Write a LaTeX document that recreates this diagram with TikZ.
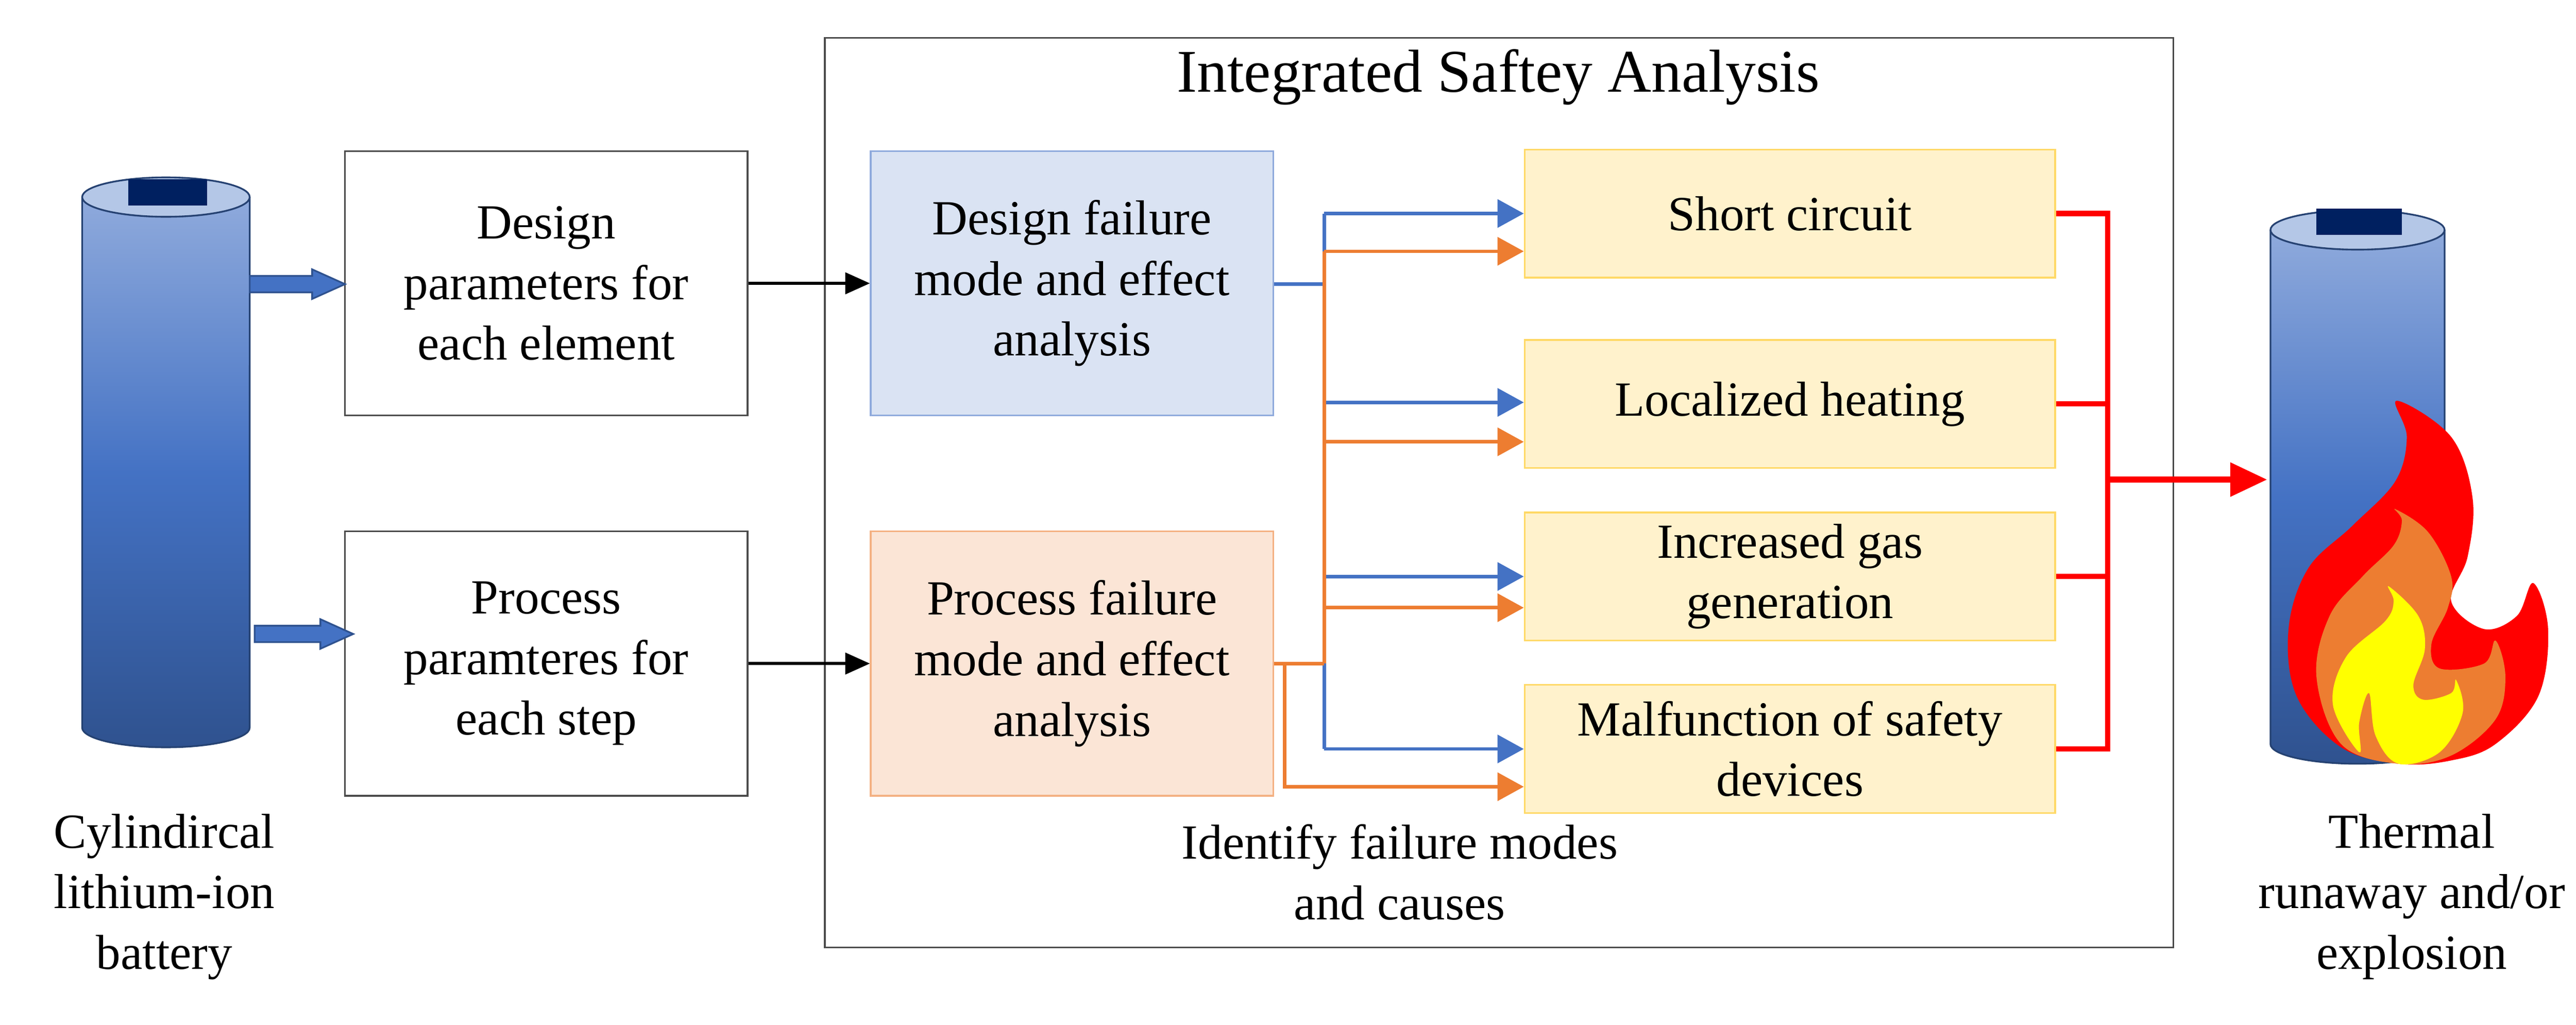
\documentclass[tikz,border=0pt]{standalone}
\usepackage{fontspec}
\setmainfont{Liberation Serif}
\usetikzlibrary{arrows.meta}
\definecolor{cblue}{HTML}{4472C4}
\definecolor{corange}{HTML}{ED7D31}
\definecolor{cred}{HTML}{FF0000}
\definecolor{dfill}{HTML}{DAE3F3}
\definecolor{dline}{HTML}{8FAADC}
\definecolor{pfill}{HTML}{FBE5D6}
\definecolor{pline}{HTML}{F4B183}
\definecolor{yfill}{HTML}{FFF2CC}
\definecolor{yline}{HTML}{FFD966}
\definecolor{battop}{HTML}{8FAADC}
\definecolor{batmid}{HTML}{4472C4}
\definecolor{batbot}{HTML}{2F528F}
\definecolor{batlid}{HTML}{B4C7E7}
\definecolor{batcap}{HTML}{002060}
\definecolor{fyellow}{HTML}{FFFF00}
\tikzset{
  txt/.style={font=\fontsize{17}{21}\selectfont, align=center},
  box/.style={txt, draw=black!70, line width=0.6pt, fill=white, minimum width=4.9cm, minimum height=3.22cm, inner sep=2pt},
  dbox/.style={box, fill=dfill, draw=dline},
  pbox/.style={box, fill=pfill, draw=pline},
  ybox/.style={txt, fill=yfill, draw=yline, line width=0.6pt, minimum width=6.46cm, minimum height=1.56cm, inner sep=2pt},
  barr/.style={cblue, line width=1.2pt, -{Triangle[length=0.32cm,width=0.34cm]}},
  oarr/.style={corange, line width=1.2pt, -{Triangle[length=0.32cm,width=0.34cm]}},
  bln/.style={cblue, line width=1.2pt},
  oln/.style={corange, line width=1.2pt},
  rln/.style={cred, line width=1.8pt},
  karr/.style={black, line width=1pt, -{Triangle[length=0.3cm,width=0.26cm]}},
  blk/.style={fill=cblue, draw=batbot, line width=0.6pt},
}
\begin{document}
\begin{tikzpicture}[x=0.02cm,y=-0.02cm]
\useasboundingbox (0,0) rectangle (1568,624);
% left battery
\shade[top color=battop, bottom color=batbot, middle color=batmid] (50,120) -- (50,443) arc[start angle=180,end angle=360,x radius=1.02cm,y radius=0.24cm] -- (152,120) -- cycle;
\draw[batbot!80!black, line width=0.6pt] (50,120) -- (50,443) arc[start angle=180,end angle=360,x radius=1.02cm,y radius=0.24cm] -- (152,120);
\draw[fill=batlid, draw=batbot!80!black, line width=0.6pt] (101,120) ellipse[x radius=1.02cm, y radius=0.24cm];
\fill[batcap] (78,109) rectangle (126,125);
% right battery
\shade[top color=battop, bottom color=batbot, middle color=batmid] (1382,140) -- (1382,453) arc[start angle=180,end angle=360,x radius=1.06cm,y radius=0.24cm] -- (1488,140) -- cycle;
\draw[batbot!80!black, line width=0.6pt] (1382,140) -- (1382,453) arc[start angle=180,end angle=360,x radius=1.06cm,y radius=0.24cm] -- (1488,140);
\draw[fill=batlid, draw=batbot!80!black, line width=0.6pt] (1435,140) ellipse[x radius=1.06cm, y radius=0.24cm];
\fill[batcap] (1410,127) rectangle (1462,143);
% flames
\fill[cred] plot[smooth cycle, tension=0.6] coordinates {(1459,244) (1492,266) (1505,303) (1502,339) (1492,366) (1512,383) (1532,375) (1542,355) (1551,383) (1545,424) (1519,453) (1492,463) (1460,465) (1425,455) (1398,424) (1393,383) (1405,346) (1432,320) (1458,293) (1465,266)};
\fill[corange] plot[smooth cycle, tension=0.6] coordinates {(1458,310) (1478,324) (1492,351) (1490,370) (1480,392) (1485,407) (1512,404) (1519,390) (1525,412) (1519,438) (1492,460) (1460,465) (1425,453) (1410,412) (1418,375) (1438,351) (1457,332) (1462,317)};
\fill[fyellow] plot[smooth cycle, tension=0.6] coordinates {(1454,357) (1472,375) (1476,395) (1469,417) (1475,426) (1492,422) (1495,414) (1499,434) (1485,458) (1460,465) (1446,448) (1442,422) (1436,440) (1436,458) (1420,429) (1428,400) (1452,378) (1457,366)};
% frame
\node[draw=black!70, line width=0.6pt, minimum width=16.42cm, minimum height=11.08cm, inner sep=0] (frame) at (912.5,300) {};
\node[font=\fontsize{21}{25}\selectfont] (title) at (912,47) {Integrated Saftey Analysis};
% boxes
\node[box] (dp) at (332.5,172.5) {Design\\parameters for\\each element};
\node[box] (pp) at (332.5,404) {Process\\paramteres for\\each step};
\node[dbox] (df) at (652.5,172.5) {Design failure\\mode and effect\\analysis};
\node[pbox] (pf) at (652.5,404) {Process failure\\mode and effect\\analysis};
\node[ybox] (sc) at (1089.5,130) {Short circuit};
\node[ybox] (lh) at (1089.5,246) {Localized heating};
\node[ybox] (ig) at (1089.5,351) {Increased gas\\generation};
\node[ybox] (mf) at (1089.5,456) {Malfunction of safety\\devices};
% labels
\node[txt] (lb1) at (100,546) {Cylindircal\\lithium-ion\\battery};
\node[txt] (lb2) at (1468,546) {Thermal\\runaway and/or\\explosion};
\node[txt] (lb3) at (852,531) {Identify failure modes\\and causes};
% block arrows
\draw[blk] (152,168) -- (190,168) -- (190,164) -- (210,173) -- (190,182) -- (190,178) -- (152,178) -- cycle;
\draw[blk] (155,381) -- (195,381) -- (195,377) -- (215,386) -- (195,395) -- (195,391) -- (155,391) -- cycle;
% black arrows
\draw[karr] (dp.east) -- (df.west);
\draw[karr] (pp.east) -- (pf.west);
% junction coordinates
\coordinate (bj) at (806,173);
\coordinate (oj) at (806,404);
\coordinate (oj2) at (782,404);
% blue connectors
\draw[bln] (df.east |- bj) -- (bj);
\draw[bln] (806,130) -- (806,456);
\draw[barr] (806,130) -- (sc.west |- 0,130);
\draw[barr] (806,245) -- (lh.west |- 0,245);
\draw[barr] (806,351) -- (ig.west |- 0,351);
\draw[barr] (806,456) -- (mf.west |- 0,456);
% orange connectors
\draw[oln] (pf.east |- oj) -- (oj);
\draw[oln] (806,153) -- (oj);
\draw[oarr] (806,153) -- (sc.west |- 0,153);
\draw[oarr] (806,269) -- (lh.west |- 0,269);
\draw[oarr] (806,370) -- (ig.west |- 0,370);
\draw[oarr] (oj2) -- (782,479) -- (mf.west |- 0,479);
% red connectors
\coordinate (rj) at (1283,292);
\draw[rln] (sc.east) -- (1283,130) -- (1283,456) -- (mf.east);
\draw[rln] (lh.east) -- (1283,246);
\draw[rln] (ig.east) -- (1283,351);
\draw[cred, line width=2.2pt, -{Triangle[length=0.45cm,width=0.4cm]}] (rj) -- (1380,292);
\end{tikzpicture}
\end{document}
